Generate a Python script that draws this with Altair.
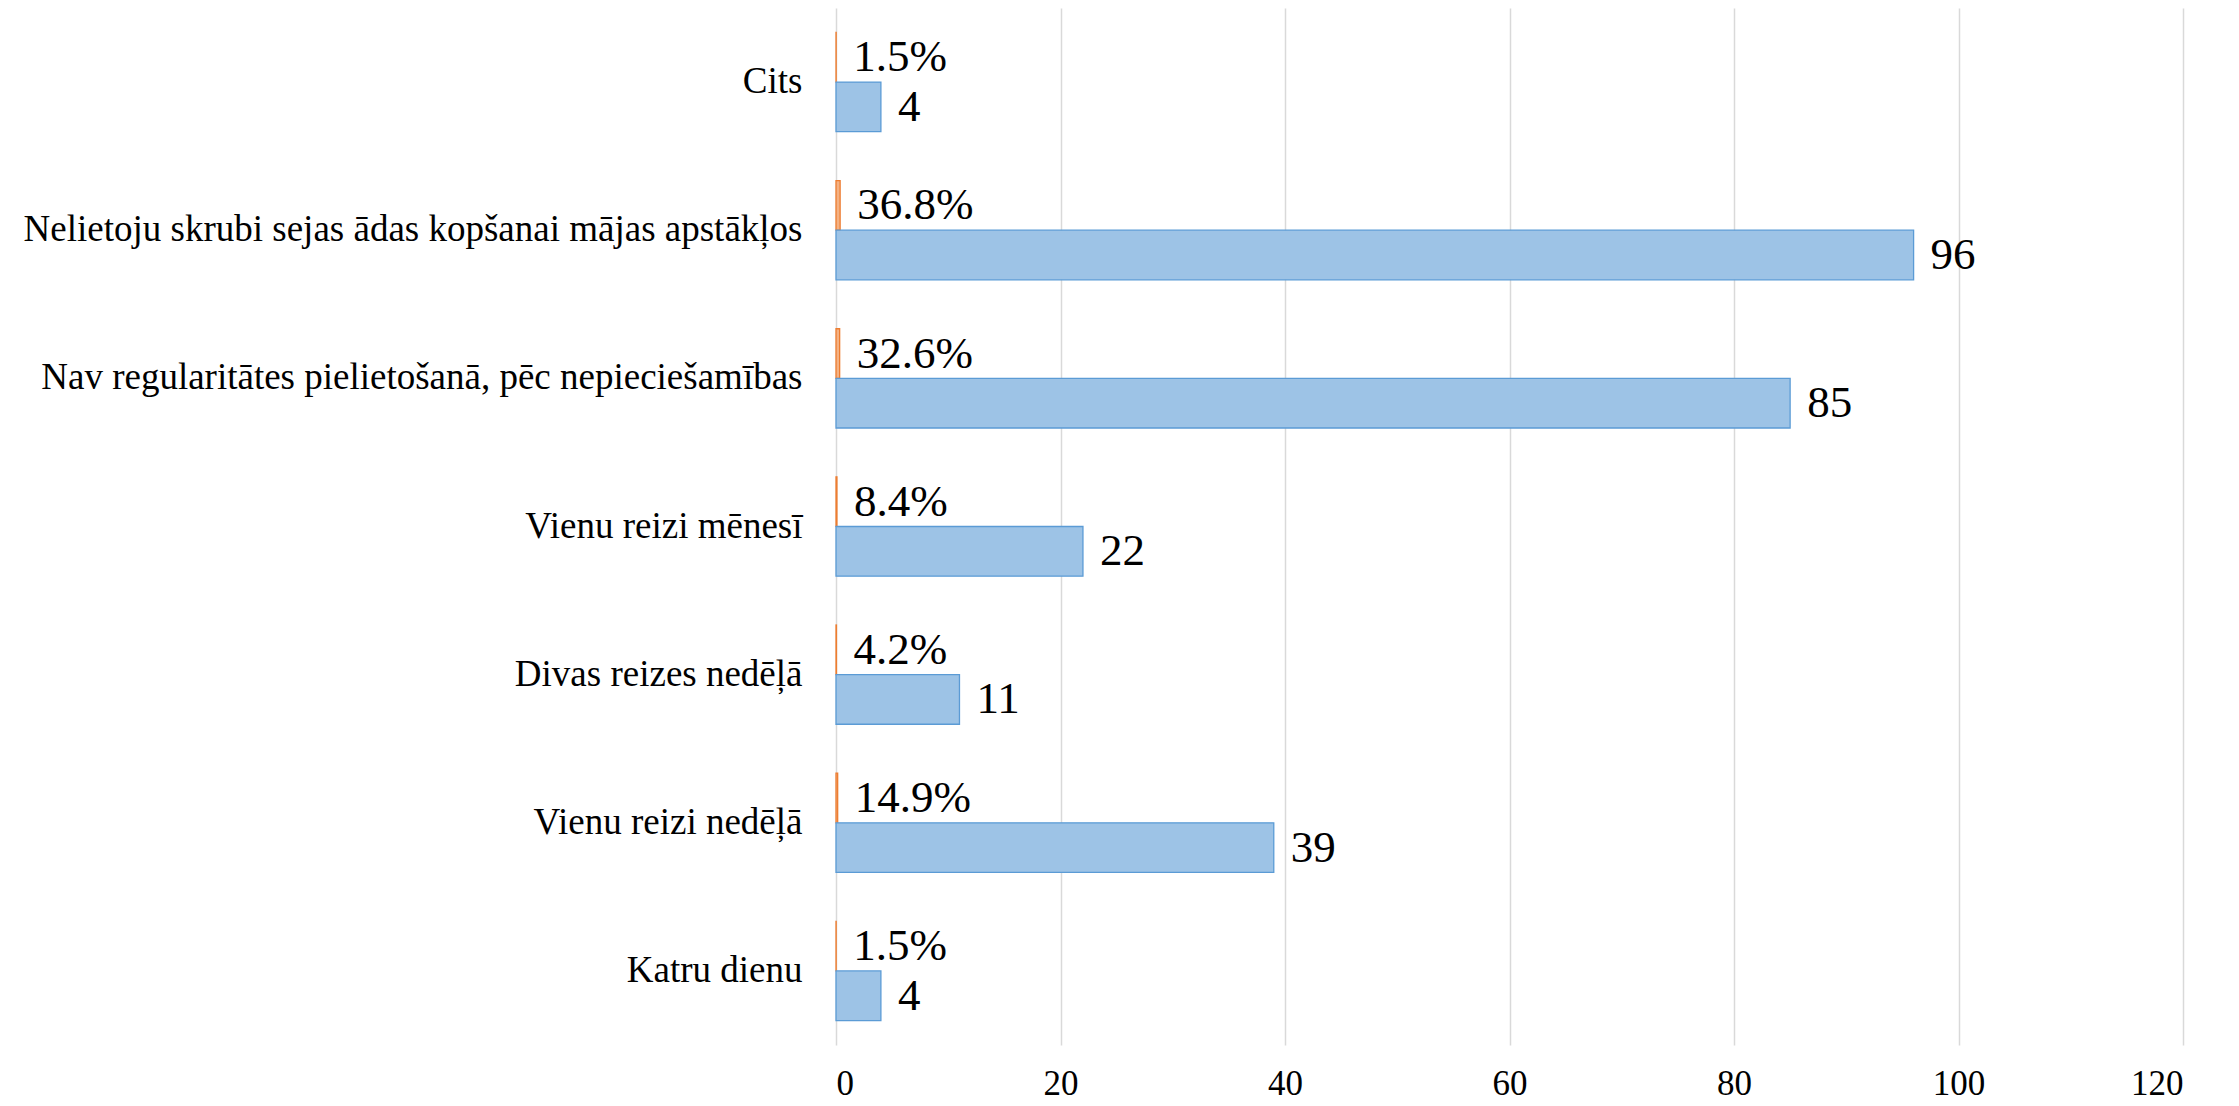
import altair as alt
import pandas as pd

categories = [
    "Cits",
    "Nelietoju skrubi sejas ādas kopšanai mājas apstākļos",
    "Nav regularitātes pielietošanā, pēc nepieciešamības",
    "Vienu reizi mēnesī",
    "Divas reizes nedēļā",
    "Vienu reizi nedēļā",
    "Katru dienu",
]
counts = [4, 96, 85, 22, 11, 39, 4]
percents = [1.5, 36.8, 32.6, 8.4, 4.2, 14.9, 1.5]
x_ticks = [0, 20, 40, 60, 80, 100, 120]

rows = []
for c, n, p in zip(categories, counts, percents):
    rows.append({"cat": c, "series": "pct", "value": p / 100.0, "label": f"{p:.1f}%"})
    rows.append({"cat": c, "series": "count", "value": n, "label": str(n)})
df = pd.DataFrame(rows)

FONT = "Liberation Serif"

y_enc = alt.Y("cat:N", sort=categories,
              scale=alt.Scale(paddingInner=0.33, paddingOuter=0.165),
              axis=alt.Axis(title=None, labelFont=FONT, labelFontSize=37, labelColor="black",
                            labelPadding=34, domain=False, ticks=False, labelLimit=1200))
x_enc = alt.X("value:Q", scale=alt.Scale(domain=[0, 120], nice=False),
              axis=alt.Axis(title=None, values=x_ticks, labelFont=FONT, labelFontSize=35,
                            labelColor="black", labelPadding=21, domain=False, ticks=False,
                            grid=True, gridColor="#D9D9D9", gridWidth=1.5))
yoff = alt.YOffset("series:N", sort=["pct", "count"], scale=alt.Scale(paddingInner=0, paddingOuter=0))

base = alt.Chart(df)

bars = base.mark_bar(strokeWidth=1.3).encode(
    y=y_enc, x=x_enc, yOffset=yoff,
    fill=alt.Fill("series:N", scale=alt.Scale(domain=["pct", "count"], range=["#F4B183", "#9DC3E6"]), legend=None),
    stroke=alt.Stroke("series:N", scale=alt.Scale(domain=["pct", "count"], range=["#ED7D31", "#5B9BD5"]), legend=None),
)

labels = base.mark_text(align="left", baseline="middle", dx=17, font=FONT, fontSize=45, color="black").encode(
    y=alt.Y("cat:N", sort=categories), x="value:Q", yOffset=yoff, text="label:N"
)

chart = (bars + labels).properties(
    width=1347, height=1037,
    autosize=alt.AutoSizeParams(type="none"),
    padding={"left": 828, "top": 0, "right": 30, "bottom": 60},
).configure_view(stroke=None)

chart.save("out.html", embed_options={"renderer": "svg", "actions": False})
